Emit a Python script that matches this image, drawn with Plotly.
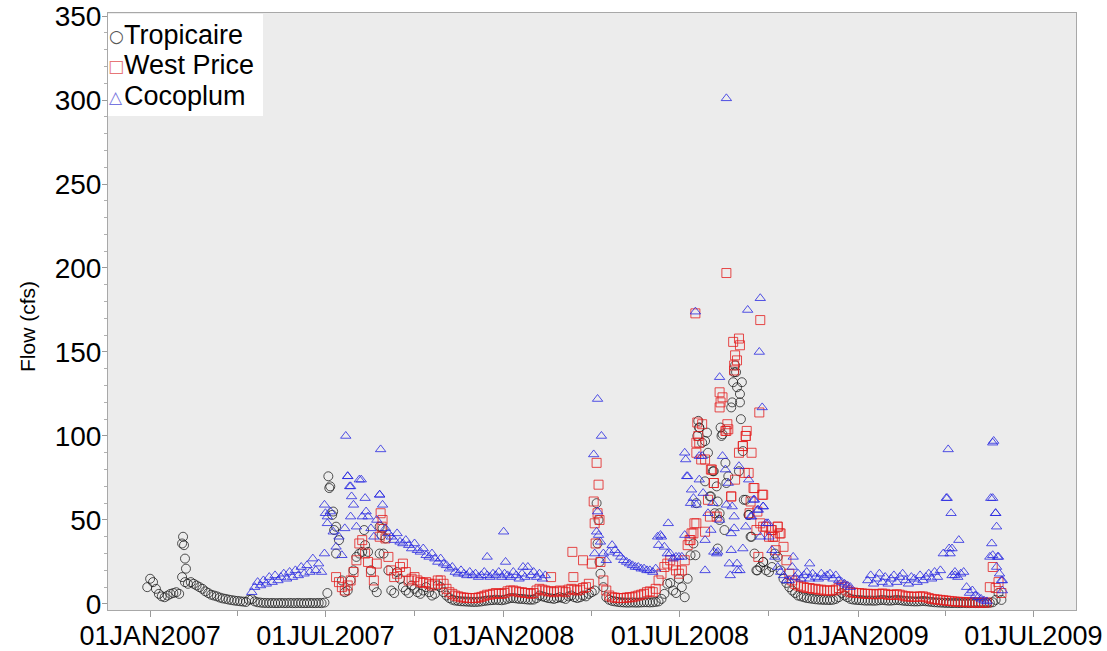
import pandas as pd
import plotly.graph_objects as go

# ---------------- data (cfs), 3-day sampling grid ----------------
trop_start = "2006-12-29"
trop_values = [
    10, 15, 13, 9, 6, 4.5, 4, 5, 6, 6.5,
    7, 6, 16, 13, 12, 13, 12, 11, 10, 9,
    7.5, 6.5, 5.5, 5, 4.5, 3.8, 3.3, 3, 2.6, 2.3,
    2, 1.8, 1.6, 1.4, 1.2, 2.5, 2.8, 1.5, 1, 0.8,
    0.6, 0.6, 0.5, 0.6, 0.5, 0.5, 0.6, 0.5, 0.5, 0.6,
    0.5, 0.5, 0.6, 0.5, 0.5, 0.5, 0.6, 0.5, 0.5, 0.6,
    0.5, 0.8, 6.5, 70, 55, 46, 38, 14, 7, 8,
    14, 20, 28, 30, 31, 35, 31, 20, 10, 7,
    30, 45, 39, 20, 8, 6.5, 19, 15, 10, 8,
    6.5, 11, 9, 7, 6, 8, 10, 7, 5, 6,
    11, 10, 7, 5, 3.5, 2.5, 2, 1.8, 1.6, 1.5,
    1.4, 1.3, 1.2, 1.2, 1.3, 1.5, 1.8, 2, 2.2, 2.3,
    2.5, 2.3, 2.2, 2.5, 3, 3.5, 3.5, 3.3, 3, 3,
    2.8, 2.6, 2.5, 2.6, 3.5, 5, 4.5, 4, 3.5, 3.3,
    3, 3.5, 4, 3.5, 3, 4.5, 5, 4, 3.5, 4,
    5, 4.5, 6, 7, 8, 36, 18, 10, 4, 2.5,
    1.8, 1.5, 1.2, 1, 0.9, 0.8, 0.8, 0.9, 0.8, 0.8,
    0.9, 1, 1, 0.9, 1, 1.2, 1.5, 3, 6, 12,
    12.5, 8, 6.5, 15, 10, 4, 15, 29, 36, 60,
    105, 96, 73, 90, 64, 79, 70, 54, 101, 84,
    76, 117, 138, 129, 120, 91, 62, 53, 40, 30,
    20, 22, 25, 20, 19, 22, 30, 28, 20, 15,
    12.5, 10, 8, 6.5, 5, 4.5, 4, 3.5, 3.3, 3,
    2.8, 2.6, 2.5, 2.4, 2.4, 2.3, 2.5, 3, 4, 6.5,
    5, 4, 3, 2.6, 2.4, 2.3, 2.2, 2, 2, 2,
    1.9, 2, 2.2, 2.4, 2.2, 2, 2, 2.2, 2.4, 2.2,
    2, 1.8, 1.7, 1.6, 1.5, 1.5, 1.6, 1.8, 1.6, 1.4,
    1.2, 1, 0.9, 0.8, 0.7, 0.6, 0.6, 0.5, 0.6, 0.5,
    0.5, 0.6, 0.5, 0.5, 0.6, 0.5, 0.5, 0.6, 0.5, 0.6,
    0.7, 1, 2.4, 6.5, 2.4,
]
trop_extra_dates = [
    "2007-02-03", "2007-02-04", "2007-02-05", "2007-02-06", "2007-02-07",
    "2007-07-04", "2007-07-05", "2007-07-08", "2007-07-10", "2007-07-12",
    "2007-08-10", "2007-08-26", "2007-08-28", "2007-08-30",
    "2008-04-06", "2008-04-08", "2008-04-09",
    "2008-07-17", "2008-07-19", "2008-07-20", "2008-07-21", "2008-07-27", "2008-07-29",
    "2008-08-01", "2008-08-04", "2008-08-06", "2008-08-09", "2008-08-09", "2008-08-11",
    "2008-08-12", "2008-08-13", "2008-08-16", "2008-08-18",
    "2008-08-24", "2008-08-25", "2008-08-27", "2008-08-28", "2008-08-31", "2008-09-01",
    "2008-09-02", "2008-09-03", "2008-09-05", "2008-09-10", "2008-09-12", "2008-09-18",
    "2008-09-25",
]
trop_extra_values = [
    36, 40, 35, 27, 21,
    76, 69, 53, 44, 30,
    44, 46, 41, 30,
    60, 50, 25,
    29, 100, 109, 105, 97, 102,
    64, 79, 54, 61, 33, 50,
    105, 100, 44, 72,
    120, 132, 142, 138, 79, 125,
    110, 132, 62, 53, 40, 20,
    25,
]

wp_start = "2007-07-12"
wp_values = [
    16, 13, 10, 8, 11, 14, 19, 26, 36, 38,
    30, 25, 19, 14, 24, 40, 50, 39, 28, 20,
    16, 18, 22, 24, 19, 14, 15, 16, 14, 13,
    12.5, 13, 12, 11, 12, 14, 14, 12, 9, 7,
    6, 5, 4.5, 4, 3.8, 3.6, 3.5, 3.5, 3.5, 3.8,
    4.2, 4.8, 5.5, 5.5, 6, 6.5, 6, 6, 6.5, 7.5,
    8, 8, 7.5, 7, 7, 6.5, 6.5, 6, 6.5, 8,
    9, 8.5, 8, 7.5, 7.5, 7, 7.5, 8, 7.5, 7,
    8.5, 9, 8.5, 8, 8.5, 9.5, 10, 12, 24, 48,
    54, 25, 14, 8, 5, 4, 3.8, 3.5, 3.5, 3.5,
    3.8, 4, 4, 4.5, 5, 5.5, 6, 7, 7.5, 7,
    9, 14, 18, 22, 24, 26, 23, 20, 18, 20,
    26, 35, 38, 42, 48, 96, 107, 86, 62, 80,
    72, 52, 117, 123, 103, 104, 64, 139, 145, 154,
    94, 100, 78, 90, 69, 55, 48, 65, 46, 40,
    44, 40, 46, 42, 34, 26, 18, 14, 12, 11,
    10.5, 10, 9.5, 9.5, 9, 9, 8.5, 8.5, 8, 8,
    8, 8, 8.5, 9.5, 11, 10, 8, 7, 6.8, 6.5,
    6.5, 6.3, 6, 6, 6, 5.8, 5.8, 6, 6.2, 6,
    5.5, 5.3, 5.5, 5.8, 5.5, 5, 4.5, 4.5, 4.3, 4.2,
    4.3, 4.5, 4.5, 4, 3.5, 3, 2.8, 2.6, 2.4, 2.2,
    2, 1.8, 1.6, 1.4, 1.3, 1.2, 1.1, 1, 1, 0.9,
    0.9, 0.8, 0.8, 0.8, 0.9, 10, 22, 9.5, 13, 6.5,
]
wp_extra_dates = [
    "2007-08-27", "2007-08-28",
    "2008-02-19", "2008-03-12", "2008-03-13", "2008-03-23",
    "2008-04-03", "2008-04-05", "2008-04-06", "2008-04-08", "2008-04-09",
    "2008-07-11", "2008-07-13", "2008-07-16", "2008-07-17", "2008-07-18", "2008-07-18",
    "2008-07-19", "2008-07-20", "2008-07-23", "2008-07-27", "2008-08-01", "2008-08-03",
    "2008-08-05", "2008-08-11", "2008-08-12", "2008-08-18", "2008-08-18", "2008-08-19",
    "2008-08-23", "2008-08-25", "2008-08-26", "2008-08-27", "2008-08-27", "2008-08-31",
    "2008-08-31", "2008-09-04", "2008-09-06", "2008-09-07", "2008-09-08", "2008-09-11",
    "2008-09-12", "2008-09-15", "2008-09-18", "2008-09-20", "2008-09-21", "2008-09-22",
    "2008-09-24", "2008-09-25", "2008-10-03", "2008-10-05", "2008-10-08", "2008-10-10",
    "2008-10-12",
]
wp_extra_values = [
    54, 46,
    16, 31, 16, 26,
    61, 36, 84, 71, 50,
    38, 42, 48, 173, 96, 90,
    108, 100, 86, 43, 52, 80,
    72, 126, 120, 197, 103, 107,
    64, 156, 142, 148, 74, 158,
    90, 94, 78, 100, 103, 54,
    61, 69, 44, 28, 114, 169,
    65, 46, 44, 40, 32, 46,
    42,
]

coco_start = "2007-04-16"
coco_values = [
    7, 10, 13, 11, 14, 12, 16, 13, 17, 14,
    16, 18, 15, 19, 16, 20, 17, 22, 18, 23,
    19, 27, 20, 24, 19, 30, 48, 55, 43, 34,
    40, 29, 45, 76, 70, 59, 46, 74, 52, 63,
    52, 45, 40, 50, 65, 59, 45, 42, 40, 38,
    42, 37, 36, 38, 35, 33, 36, 32, 31, 33,
    29, 28, 30, 27, 25, 27, 24, 23, 21, 22,
    19, 18, 20, 18, 17, 19, 17, 18, 16, 17,
    19, 17, 16, 18, 17, 19, 16, 18, 17, 16,
    19, 17, 15, 18, 16, 22, 17, 19, 16, 18,
    15, 17, None, None, None, None, None, None, None, None,
    None, None, None, None, None, None, None, None, 30, 55,
    37, 30, 26, 31, 35, 32, 30, 28, 26, 25,
    24, 23, 22, 22, 21, 21, 20, 20, 19, 21,
    35, 40, 34, 30, 30, 27, 28, 28, 28, 41,
    76, 60, 63, 59, 74, 88, 38, 54, 44, 31,
    30, 50, 88, 80, 72, 42, 52, 24, 20, 33,
    46, 74, 52, 62, 56, 40, 58, 48, 40, 32,
    28, 22, 19, 17, 14, 14, 22, 16, 18, 15,
    17, 19, 15, 18, 16, 15, 18, 16, 17, 18,
    15, 17, 14, 13, 12, 11, 10, None, None, None,
    None, None, 14, 17, 12, 15, 18, 13, 16, 12,
    15, 17, 13, 16, 18, 14, 12, 16, 15, 13,
    17, 14, 16, 18, 15, 19, 16, 20, 30, 63,
    33, 17, 19, 16, 18, 19, 10, 6.5, 8, 5,
    4, 3, 2, 1.5, 28, 63, 54, 28, 14,
]
coco_extra_dates = [
    "2007-06-30", "2007-07-01", "2007-07-03",
    "2007-07-22", "2007-07-24", "2007-07-26", "2007-07-27", "2007-07-28", "2007-08-07",
    "2007-08-12", "2007-08-26", "2007-08-27",
    "2007-12-15", "2008-01-01", "2008-01-03", "2008-01-21",
    "2008-04-03", "2008-04-06", "2008-04-07", "2008-04-08", "2008-04-11",
    "2008-06-08", "2008-06-11", "2008-06-19",
    "2008-07-06", "2008-07-07", "2008-07-08", "2008-07-13", "2008-07-17", "2008-07-21",
    "2008-07-25", "2008-07-27", "2008-08-04", "2008-08-09", "2008-08-11", "2008-08-18",
    "2008-08-18", "2008-08-21", "2008-08-22", "2008-08-23", "2008-08-24", "2008-08-26",
    "2008-08-29", "2008-08-31", "2008-09-09", "2008-09-12", "2008-09-15", "2008-09-20",
    "2008-09-21", "2008-09-22", "2008-09-24", "2008-09-25", "2008-09-30",
    "2008-10-26", "2008-11-12",
    "2009-04-03", "2009-04-04", "2009-04-06", "2009-04-07", "2009-04-08", "2009-04-11",
    "2009-04-15",
    "2009-05-18", "2009-05-19", "2009-05-20", "2009-05-20", "2009-05-21", "2009-05-23",
    "2009-05-24", "2009-05-24", "2009-05-25", "2009-05-27", "2009-05-30", "2009-05-30",
]
coco_extra_values = [
    59, 54, 52,
    100, 76, 70, 52, 64, 74,
    55, 65, 92,
    28, 43, 25, 22,
    89, 43, 122, 41, 100,
    40, 41, 48,
    90, 86, 76, 68, 174, 88,
    66, 20, 60, 31, 135, 301,
    59, 24, 17, 32, 58, 45,
    20, 82, 175, 52, 62, 56,
    150, 182, 117, 58, 48,
    28, 24,
    63, 92, 30, 54, 33, 17,
    38,
    63, 36, 96, 29, 97, 54,
    46, 22, 28, 18, 14, 8,
]

series_names = ["Tropicaire", "West Price", "Cocoplum"]
x_tick_vals = ["2007-01-01", "2007-07-01", "2008-01-01", "2008-07-01", "2009-01-01", "2009-07-01"]
x_tick_text = ["01JAN2007", "01JUL2007", "01JAN2008", "01JUL2008", "01JAN2009", "01JUL2009"]
x_minor_vals = ["2007-04-01", "2007-10-01", "2008-04-01", "2008-10-01", "2009-04-01"]
y_tick_vals = [0, 50, 100, 150, 200, 250, 300, 350]


def series(start, values, extra_dates, extra_values):
    dates = pd.date_range(start, periods=len(values), freq="3D")
    xs = list(dates) + list(pd.to_datetime(extra_dates))
    ys = list(values) + list(extra_values)
    return xs, ys


FONT = "Liberation Sans, Arial, sans-serif"
W, H = 1107, 651
ML, MR, MT, MB = 108, 31, 13, 41
PW, PH = W - ML - MR, H - MT - MB


def px_x(p):  # pixel -> paper x
    return (p - ML) / PW


def px_y(p):  # pixel -> paper y
    return (H - MB - p) / PH


colors = ["rgba(25,25,25,0.75)", "rgba(228,30,30,0.8)", "rgba(40,40,225,0.8)"]
legend_colors = ["#555555", "#E77777", "#7777E0"]
symbols = ["circle-open", "square-open", "triangle-up-open"]
legend_glyphs = ["\u25CB", "\u25A1", "\u25B3"]

fig = go.Figure()
data = [
    (trop_start, trop_values, trop_extra_dates, trop_extra_values),
    (wp_start, wp_values, wp_extra_dates, wp_extra_values),
    (coco_start, coco_values, coco_extra_dates, coco_extra_values),
]
for name, (start, vals, edates, evals), sym, col in zip(series_names, data, symbols, colors):
    xs, ys = series(start, vals, edates, evals)
    fig.add_trace(go.Scatter(
        x=xs, y=ys, mode="markers", name=name, showlegend=False,
        marker=dict(symbol=sym, size=9, color=col, line=dict(width=1, color=col)),
    ))

# legend box drawn as white panel with text entries
shapes = [dict(type="rect", xref="paper", yref="paper",
               x0=px_x(108), x1=px_x(263), y0=px_y(116), y1=px_y(14),
               fillcolor="white", line=dict(width=0), layer="above")]
annotations = []
row_y = [35, 65, 96]
for name, glyph, lc, ry in zip(series_names, legend_glyphs, legend_colors, row_y):
    annotations.append(dict(xref="paper", yref="paper", x=px_x(116), y=px_y(ry + 1),
                            text=glyph, showarrow=False, xanchor="center", yanchor="middle",
                            font=dict(family="DejaVu Sans", size=17, color=lc)))
    annotations.append(dict(xref="paper", yref="paper", x=px_x(122), y=px_y(ry),
                            text=name, showarrow=False, xanchor="left", yanchor="middle",
                            font=dict(family=FONT, size=27, color="black")))
annotations.append(dict(xref="paper", yref="paper", x=px_x(27), y=px_y(327),
                        text="Flow (cfs)", showarrow=False, textangle=-90,
                        xanchor="center", yanchor="middle",
                        font=dict(family=FONT, size=21, color="black")))

fig.update_layout(
    width=W, height=H,
    margin=dict(l=ML, r=MR, t=MT, b=MB),
    paper_bgcolor="white",
    plot_bgcolor="#ECECEC",
    font=dict(family=FONT, color="black"),
    showlegend=False,
    shapes=shapes,
    annotations=annotations,
)
fig.update_xaxes(
    type="date", automargin=False,
    range=["2006-11-18 12:00", "2009-08-14"],
    tickmode="array", tickvals=x_tick_vals, ticktext=x_tick_text,
    tickfont=dict(size=27, family=FONT, color="black"),
    ticks="outside", ticklen=6, tickwidth=1, tickcolor="#9A9A9A",
    ticklabelstandoff=-4,
    minor=dict(tickvals=x_minor_vals, ticks="outside", ticklen=5, tickcolor="#9A9A9A", showgrid=False),
    showline=True, linecolor="#A8A8A8", linewidth=1, mirror=True,
    showgrid=False, zeroline=False,
)
fig.update_yaxes(
    automargin=False,
    range=[-3.6, 351.8],
    tickmode="array", tickvals=y_tick_vals,
    tickfont=dict(size=28, family=FONT, color="black"),
    ticks="outside", ticklen=5, tickwidth=1, tickcolor="#9A9A9A",
    ticklabelstandoff=-5,
    minor=dict(dtick=10, tick0=0, ticks="outside", ticklen=3, tickcolor="#B0B0B0", showgrid=False),
    showline=True, linecolor="#A8A8A8", linewidth=1, mirror=True,
    showgrid=False, zeroline=False,
)

fig.write_html("out.html", config={"displayModeBar": False},
               post_script="document.body.style.margin='0px';")
